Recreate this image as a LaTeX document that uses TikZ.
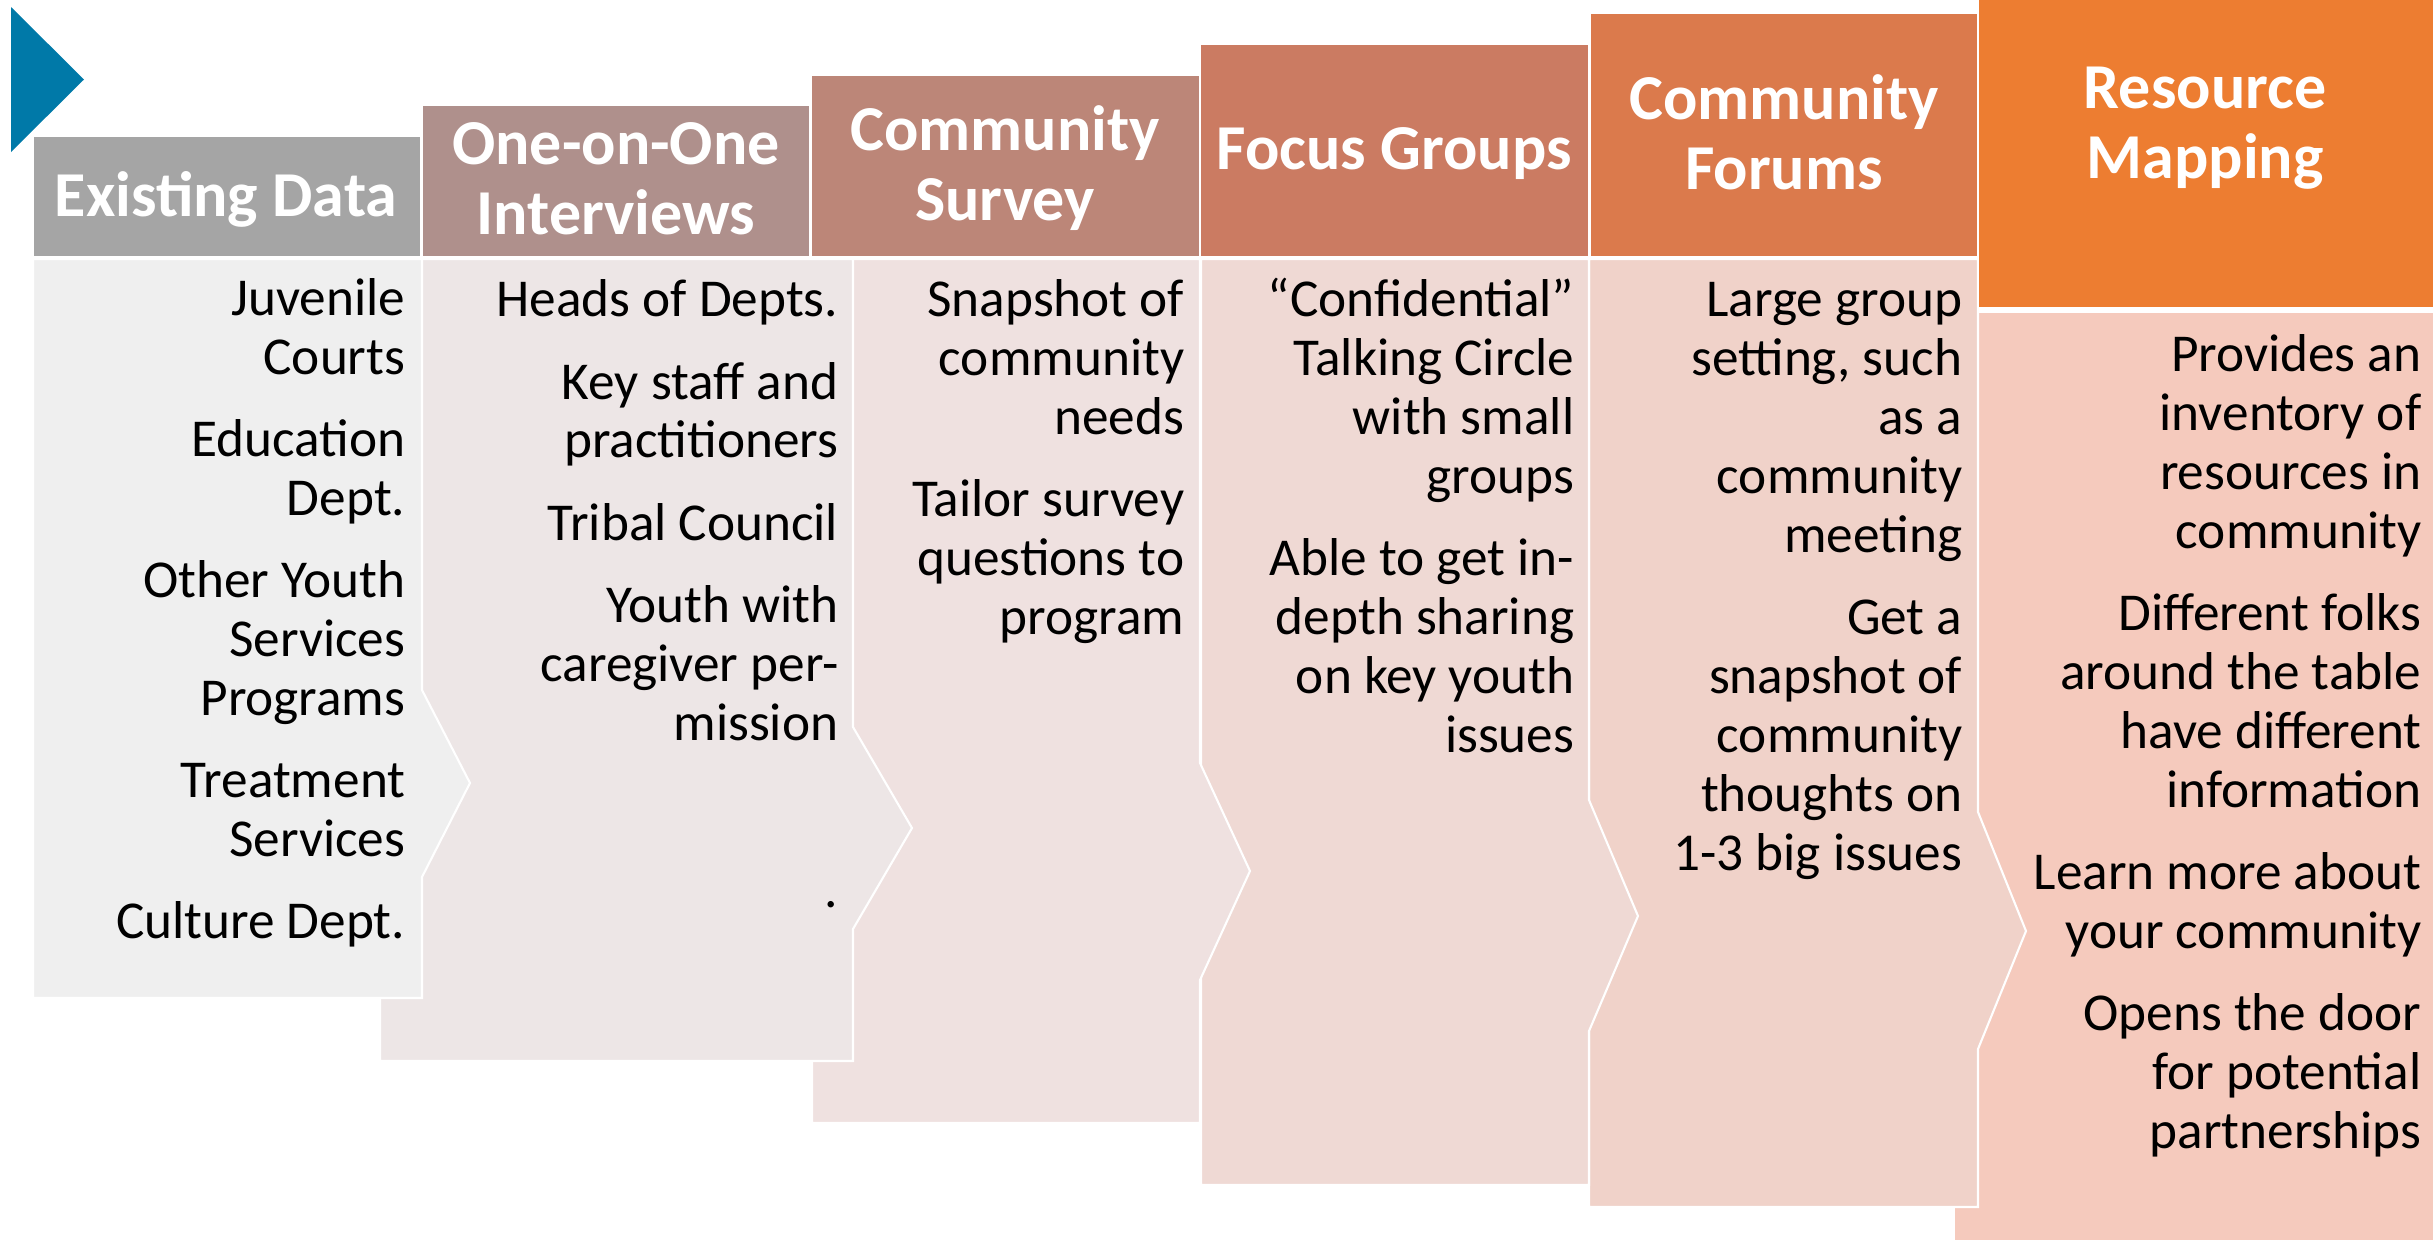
\documentclass[tikz,border=0pt]{standalone}
\usepackage{fontspec}
\setmainfont{Carlito}
\definecolor{cBlue}{HTML}{0079A8}
\definecolor{hA}{HTML}{A5A5A5}
\definecolor{hB}{HTML}{AF908C}
\definecolor{hC}{HTML}{BC8678}
\definecolor{hD}{HTML}{CB7B62}
\definecolor{hE}{HTML}{DB7A4C}
\definecolor{hF}{HTML}{ED7D31}
\definecolor{bA}{HTML}{EFEFEF}
\definecolor{bB}{HTML}{EDE6E6}
\definecolor{bC}{HTML}{EFE1E0}
\definecolor{bD}{HTML}{EFD9D4}
\definecolor{bE}{HTML}{F0D2C9}
\definecolor{bF}{HTML}{F5CABD}
\newcommand\fstr{\rule{0pt}{14pt}}
\begin{document}
\begin{tikzpicture}[x=0.01cm,y=-0.01cm,
  panel/.style={fill=#1,draw=white,line width=0.6pt},
  htext/.style={text=white,font=\fontsize{18.2pt}{19.9pt}\selectfont\bfseries,align=center,inner sep=0pt,anchor=base},
  btext/.style={text=black,font=\fontsize{15.15pt}{16.75pt}\selectfont,align=right,inner sep=0pt,anchor=north east}]
\useasboundingbox (0,0) rectangle (2433,1239);
% start marker
\fill[cBlue] (11,7) -- (84,79.5) -- (11,152) -- cycle;
% body panels (right to left)
\path[panel=bF] (1954,312) -- (2440,312) -- (2440,1245) -- (1954,1245) -- cycle;
\path[panel=bE] (1589,259) -- (1978,259) -- (1978,812) -- (2026,931) -- (1978,1049) -- (1978,1207) -- (1589,1207) -- cycle;
\path[panel=bD] (1201,259) -- (1589,259) -- (1589,800) -- (1638,916) -- (1589,1031) -- (1589,1185) -- (1201,1185) -- cycle;
\path[panel=bC] (812,259) -- (1200,259) -- (1200,763) -- (1250,871) -- (1200,980) -- (1200,1123) -- (812,1123) -- cycle;
\path[panel=bB] (380,259) -- (853,259) -- (853,727) -- (912,828) -- (853,929) -- (853,1061) -- (380,1061) -- cycle;
\path[panel=bA] (33,259) -- (422,259) -- (422,690) -- (470,783) -- (422,877) -- (422,998) -- (33,998) -- cycle;
% headers
\path[panel=hA] (33,136) rectangle (421,257);
\path[panel=hB] (422,105) rectangle (810,257);
\path[panel=hC] (811,75) rectangle (1200,257);
\path[panel=hD] (1200,44) rectangle (1589,257);
\path[panel=hE] (1590,13) rectangle (1978,257);
\path[panel=hF] (1978,-5) rectangle (2440,308);
% header texts (base = last line)
\node[htext] (tA) at (226,216) {Existing Data};
\node[htext] (tB) at (616,234) {One-on-One\\Interviews};
\node[htext] (tC) at (1005,220) {Community\\Survey};
\node[htext] (tD) at (1394,169) {Focus Groups};
\node[htext] (tE) at (1784,189) {Community\\Forums};
\node[htext] (tF) at (2205,178) {Resource\\Mapping};
% body texts
\node[btext] (xA) at (406,266) {\fstr Juvenile\\Courts\\[6.6pt]Education\\Dept.\\[6.6pt]Other Youth\\Services\\Programs\\[6.6pt]Treatment\\Services\\[6.6pt]Culture Dept.};
\node[btext] (xB) at (839,267) {\fstr Heads of Depts.\\[6.6pt]Key staff and\\practitioners\\[6.6pt]Tribal Council\\[6.6pt]Youth with\\caregiver per-\\mission\\[30.9pt].};
\node[btext] (xC) at (1185,267) {\fstr Snapshot of\\community\\needs\\[6.6pt]Tailor survey\\questions to\\program};
\node[btext] (xD) at (1575,267) {\fstr “Confidential”\\Talking Circle\\with small\\groups\\[6.6pt]Able to get in-\\depth sharing\\on key youth\\issues};
\node[btext] (xE) at (1963,267) {\fstr Large group\\setting, such\\as a\\community\\meeting\\[6.6pt]Get a\\snapshot of\\community\\thoughts on\\1-3 big issues};
\node[btext] (xF) at (2422,322) {\fstr Provides an\\inventory of\\resources in\\community\\[6.6pt]Different folks\\around the table\\have different\\information\\[6.6pt]Learn more about\\your community\\[6.6pt]Opens the door\\for potential\\partnerships};
\end{tikzpicture}
\end{document}
